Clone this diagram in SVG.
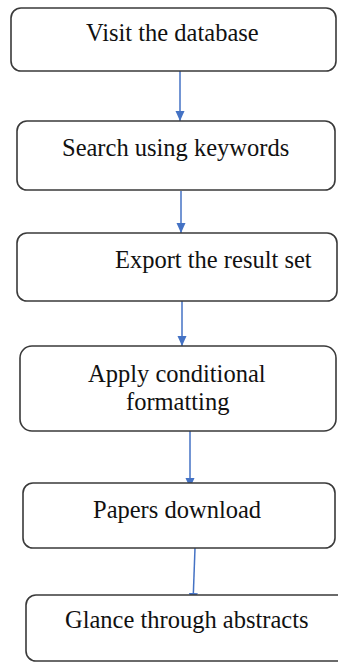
<svg xmlns="http://www.w3.org/2000/svg" width="338" height="662" viewBox="0 0 338 662">
<style>
.box{fill:#fff;stroke:#3a3a3a;stroke-width:1.6}
.t{font-size:24.5px;fill:#111}
.c{stroke:#4472c4;stroke-width:1.5;fill:none}
</style>
<defs>
<marker id="ah" markerUnits="userSpaceOnUse" markerWidth="10" markerHeight="10" viewBox="0 0 10 10" refX="10" refY="5" orient="auto">
<path d="M0,0.5 L10,5 L0,9.5 Z" fill="#4472c4"/>
</marker>
</defs>
<rect width="338" height="662" fill="#fff"/>
<g id="connectors">
<line class="c" x1="180" y1="71" x2="180" y2="121" marker-end="url(#ah)"/>
<line class="c" x1="181" y1="191" x2="181" y2="233" marker-end="url(#ah)"/>
<line class="c" x1="182" y1="301" x2="182" y2="346" marker-end="url(#ah)"/>
<line class="c" x1="190" y1="431" x2="190" y2="488" marker-end="url(#ah)"/>
<line class="c" x1="195" y1="548" x2="193" y2="603" marker-end="url(#ah)"/>
</g>
<g font-family="Liberation Serif, DejaVu Serif, serif">
<g id="n1"><rect class="box" x="11" y="8" width="325" height="63" rx="10"/><text class="t" x="86" y="41">Visit the database</text></g>
<g id="n2"><rect class="box" x="17" y="121" width="318" height="69" rx="10"/><text class="t" x="62" y="155.5">Search using keywords</text></g>
<g id="n3"><rect class="box" x="17" y="233" width="320" height="68" rx="10"/><text class="t" x="115" y="267.5">Export the result set</text></g>
<g id="n4"><rect class="box" x="20" y="346" width="316" height="85" rx="12"/><text class="t" x="88" y="381.5">Apply conditional</text><text class="t" x="126" y="409.5">formatting</text></g>
<g id="n5"><rect class="box" x="23" y="483" width="312" height="65" rx="10"/><text class="t" x="93" y="517.5">Papers download</text></g>
<g id="n6"><rect class="box" x="26" y="595" width="330" height="66" rx="10"/><text class="t" x="65" y="627.5">Glance through abstracts</text></g>
</g>
</svg>
